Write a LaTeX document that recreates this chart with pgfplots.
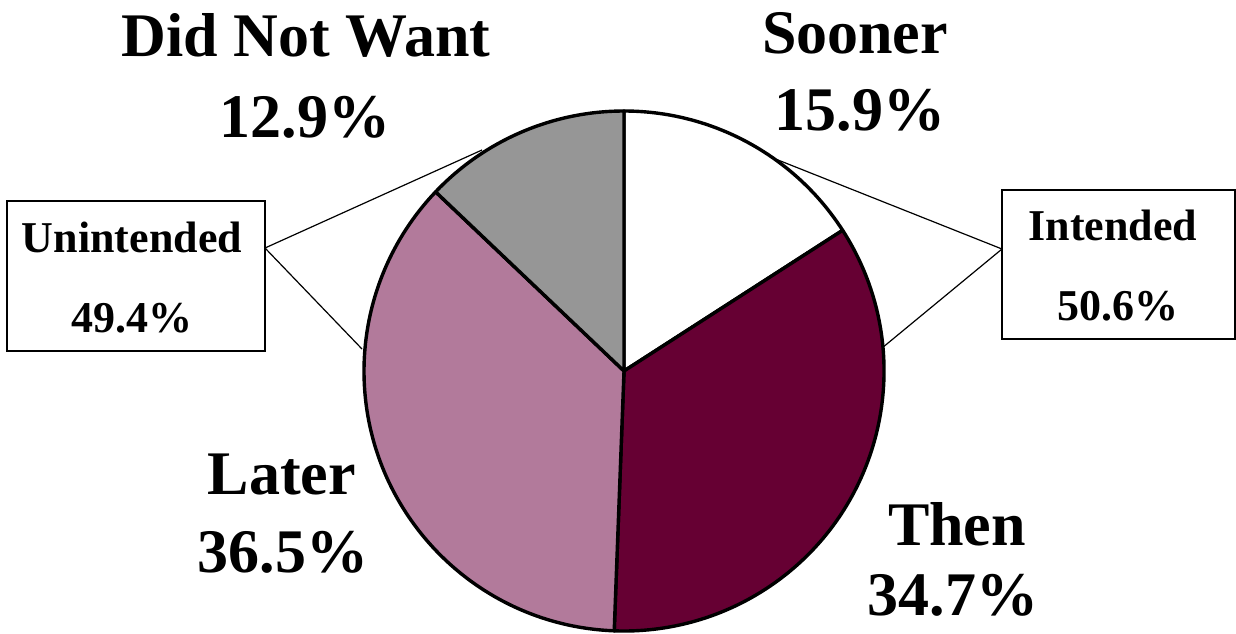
\documentclass[border=0pt]{standalone}
\usepackage{pgfplots}
\usepackage{pgfplotstable}
\usepackage{fontspec}
\setmainfont{Liberation Serif}
\pgfplotsset{compat=1.18}
\definecolor{maroon}{HTML}{660033}
\definecolor{slicegray}{HTML}{969696}
\definecolor{latermix}{RGB}{178,122,155}
\pgfplotstableread{
label pct
Sooner 15.9
Then 34.7
Later 36.5
DidNotWant 12.9
}\piedata
\begin{document}
\begin{tikzpicture}
\pgfplotstablegetelem{0}{pct}\of\piedata \let\pA\pgfplotsretval
\pgfplotstablegetelem{1}{pct}\of\piedata \let\pB\pgfplotsretval
\pgfplotstablegetelem{2}{pct}\of\piedata \let\pC\pgfplotsretval
\pgfplotstablegetelem{3}{pct}\of\piedata \let\pD\pgfplotsretval
\pgfmathsetmacro\aA{90}
\pgfmathsetmacro\aB{\aA-3.6*\pA}
\pgfmathsetmacro\aC{\aB-3.6*\pB}
\pgfmathsetmacro\aD{\aC-3.6*\pC}
\pgfmathsetmacro\aE{\aD-3.6*\pD}
\begin{axis}[
  scale only axis, width=618pt, height=316.5pt,
  xmin=0, xmax=1236, ymin=0, ymax=633, y dir=reverse,
  hide axis, clip=false,
]
% connector lines
\draw[line width=0.6pt] (axis cs:265,248) -- (axis cs:482,150);
\draw[line width=0.6pt] (axis cs:265,248) -- (axis cs:362,349);
\draw[line width=0.6pt] (axis cs:1002,249) -- (axis cs:778,160);
\draw[line width=0.6pt] (axis cs:1002,249) -- (axis cs:882,348);
% pie slices
\filldraw[fill=white, draw=black, line width=1.7pt, line join=round]
  (axis cs:624,371) -- ++(\aA:130pt) arc[start angle=\aA, end angle=\aB, radius=130pt] -- cycle;
\filldraw[fill=maroon, draw=black, line width=1.7pt, line join=round]
  (axis cs:624,371) -- ++(\aB:130pt) arc[start angle=\aB, end angle=\aC, radius=130pt] -- cycle;
\filldraw[fill=latermix, draw=black, line width=1.7pt, line join=round]
  (axis cs:624,371) -- ++(\aC:130pt) arc[start angle=\aC, end angle=\aD, radius=130pt] -- cycle;
\filldraw[fill=slicegray, draw=black, line width=1.7pt, line join=round]
  (axis cs:624,371) -- ++(\aD:130pt) arc[start angle=\aD, end angle=\aE, radius=130pt] -- cycle;
% boxes
\draw[line width=0.8pt, fill=white] (axis cs:7,201) rectangle (axis cs:265,351);
\draw[line width=0.8pt, fill=white] (axis cs:1002,190) rectangle (axis cs:1235,339);
% big labels
\tikzset{big/.style={anchor=base, inner sep=0pt, font=\fontsize{31pt}{36pt}\selectfont\bfseries}}
\tikzset{small/.style={anchor=base, inner sep=0pt, font=\fontsize{22pt}{26pt}\selectfont\bfseries}}
\node[big] at (axis cs:306,56) {Did Not Want};
\node[big] at (axis cs:305,137) {12.9\%};
\node[big] at (axis cs:855,53) {Sooner};
\node[big] at (axis cs:860,130) {15.9\%};
\node[big] at (axis cs:282,494) {Later};
\node[big] at (axis cs:283,572) {36.5\%};
\node[big] at (axis cs:957,545) {Then};
\node[big] at (axis cs:953,615) {34.7\%};
\node[small] at (axis cs:132,252) {Unintended};
\node[small] at (axis cs:132,332) {49.4\%};
\node[small] at (axis cs:1113,240) {Intended};
\node[small] at (axis cs:1118,320) {50.6\%};
\end{axis}
\pgfresetboundingbox
\path (0,0) rectangle (618pt,316.5pt);
\end{tikzpicture}
\end{document}
